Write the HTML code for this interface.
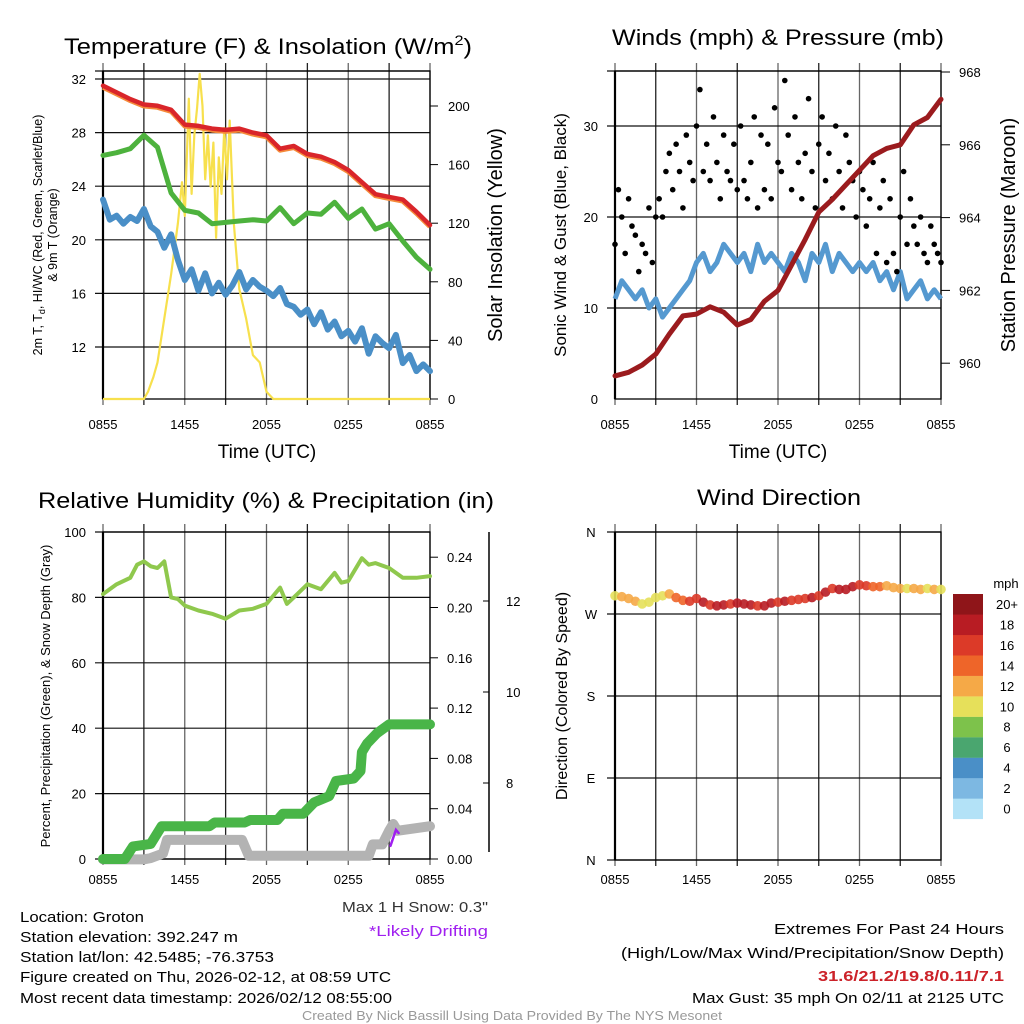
<!DOCTYPE html>
<html><head><meta charset="utf-8"><style>
html,body{margin:0;padding:0;background:#fff;}
svg{display:block;font-family:"Liberation Sans",sans-serif;}
</style></head><body>
<svg id="fig" width="1024" height="1024" viewBox="0 0 1024 1024" xmlns="http://www.w3.org/2000/svg">
<rect width="1024" height="1024" fill="#fff"/>
<g font-size="22" fill="#000">
<text x="64" y="54" textLength="408" lengthAdjust="spacingAndGlyphs">Temperature (F) &amp; Insolation (W/m<tspan font-size="14" dy="-9">2</tspan><tspan dy="9">)</tspan></text>
<text x="612" y="45" textLength="332" lengthAdjust="spacingAndGlyphs">Winds (mph) &amp; Pressure (mb)</text>
<text x="38" y="508" textLength="456" lengthAdjust="spacingAndGlyphs">Relative Humidity (%) &amp; Precipitation (in)</text>
<text x="697" y="505" textLength="164" lengthAdjust="spacingAndGlyphs">Wind Direction</text>
</g>
<g font-size="19">
<text x="267" y="458" text-anchor="middle">Time (UTC)</text>
<text x="778" y="458" text-anchor="middle">Time (UTC)</text>
<text transform="translate(502,235) rotate(-90)" text-anchor="middle" font-size="20">Solar Insolation (Yellow)</text>
<text transform="translate(1015,235) rotate(-90)" text-anchor="middle" font-size="20">Station Pressure (Maroon)</text>
<text transform="translate(566,235) rotate(-90)" text-anchor="middle" font-size="17">Sonic Wind &amp; Gust (Blue, Black)</text>
<text transform="translate(567,696) rotate(-90)" text-anchor="middle" font-size="16">Direction (Colored By Speed)</text>
<text transform="translate(50,696) rotate(-90)" text-anchor="middle" font-size="13">Percent, Precipitation (Green), &amp; Snow Depth (Gray)</text>
<text transform="translate(42,235) rotate(-90)" text-anchor="middle" font-size="12.5">2m T, T<tspan font-size="9" dy="3">d</tspan><tspan dy="-3">, HI/WC (Red, Green, Scarlet/Blue)</tspan></text>
<text transform="translate(57,235) rotate(-90)" text-anchor="middle" font-size="12.5">&amp; 9m T (Orange)</text>
</g>
<g font-size="15">
<text x="20" y="922" textLength="124" lengthAdjust="spacingAndGlyphs">Location: Groton</text>
<text x="20" y="942" textLength="218" lengthAdjust="spacingAndGlyphs">Station elevation: 392.247 m</text>
<text x="20" y="962" textLength="254" lengthAdjust="spacingAndGlyphs">Station lat/lon: 42.5485; -76.3753</text>
<text x="20" y="982" textLength="371" lengthAdjust="spacingAndGlyphs">Figure created on Thu, 2026-02-12, at 08:59 UTC</text>
<text x="20" y="1003" textLength="372" lengthAdjust="spacingAndGlyphs">Most recent data timestamp: 2026/02/12 08:55:00</text>
<text x="342" y="912" textLength="146" lengthAdjust="spacingAndGlyphs" fill="#333">Max 1 H Snow: 0.3"</text>
<text x="369" y="936" textLength="119" lengthAdjust="spacingAndGlyphs" fill="#a020f0">*Likely Drifting</text>
<text x="774" y="934" textLength="230" lengthAdjust="spacingAndGlyphs">Extremes For Past 24 Hours</text>
<text x="621" y="958" textLength="383" lengthAdjust="spacingAndGlyphs">(High/Low/Max Wind/Precipitation/Snow Depth)</text>
<text x="818" y="981" textLength="186" lengthAdjust="spacingAndGlyphs" fill="#cc2229" font-weight="bold">31.6/21.2/19.8/0.11/7.1</text>
<text x="692" y="1003" textLength="312" lengthAdjust="spacingAndGlyphs">Max Gust: 35 mph On 02/11 at 2125 UTC</text>
<text x="302" y="1020" textLength="420" lengthAdjust="spacingAndGlyphs" font-size="13" fill="#999">Created By Nick Bassill Using Data Provided By The NYS Mesonet</text>
</g>
</svg>
<script>
// ---- data ----
var hours = [0,1,2,3,4,5,6,7,8,9,10,11,12,13,14,15,16,17,18,19,20,21,22,23,24];
var tempRed = [31.5,31.0,30.5,30.1,30.0,29.7,28.6,28.5,28.3,28.2,28.3,28.0,27.8,26.8,27.0,26.4,26.2,25.8,25.2,24.3,23.4,23.2,23.0,22.1,21.1];
var tempGreen = [26.3,26.5,26.8,27.8,26.9,23.5,22.2,22.0,21.2,21.3,21.4,21.5,21.4,22.4,21.2,22.0,21.9,22.8,21.6,22.3,20.8,21.2,19.9,18.7,17.8];
var halfHours = [0,0.5,1,1.5,2,2.5,3,3.5,4,4.5,5,5.5,6,6.5,7,7.5,8,8.5,9,9.5,10,10.5,11,11.5,12,12.5,13,13.5,14,14.5,15,15.5,16,16.5,17,17.5,18,18.5,19,19.5,20,20.5,21,21.5,22,22.5,23,23.5,24];
var dewBlue = [23,21.5,21.8,21.2,21.7,21.4,22.3,21.0,20.6,19.4,20.4,18.5,17.0,17.8,16.2,17.5,16.0,16.8,15.9,16.6,17.6,16.3,17.0,16.5,16.2,15.8,16.4,15.2,15.0,14.4,14.8,13.7,14.6,13.3,13.9,12.8,13.2,12.4,13.4,11.5,12.8,12.3,11.9,12.9,10.8,11.4,10.2,10.7,10.2];
var solarHours = [0,3,3.3,3.7,4,4.5,5,5.5,5.8,6,6.3,6.5,6.7,6.9,7.1,7.3,7.5,7.7,7.9,8.1,8.3,8.5,8.7,8.9,9.1,9.3,9.6,10,10.5,11,11.5,12,12.5,24];
var solarVals = [0,0,5,15,25,55,85,120,148,125,205,140,180,198,222,200,150,180,145,175,110,165,140,185,150,190,120,75,55,30,25,5,0,0];
var windVals = [11,13,12,11,12,10,11,9,10,11,12,13,15,16,14,15,17,16,15,16,14,17,15,16,15,14,16,15,13,16,15,17,14,16,15,14,15,14,15,13,14,12,14,11,12,13,11,12,11];
var gustVals = [17,23,20,16,22,19,18,14,17,16,21,15,20,22,20,25,27,23,28,25,21,29,26,24,30,34,25,28,24,31,26,22,29,25,24,28,23,30,24,22,26,31,21,29,23,28,22,32,26,25,35,29,23,31,26,22,27,33,25,21,28,31,24,27,22,30,25,21,29,26,24,20,25,23,19,22,26,16,21,24,15,22,16,14,20,25,17,22,19,17,20,16,15,19,17,16,15];
var pressVals = [959.65,959.75,959.95,960.25,960.8,961.3,961.35,961.55,961.4,961.05,961.2,961.7,962.0,962.7,963.4,964.15,964.5,964.9,965.3,965.7,965.9,966.0,966.55,966.75,967.25];
var rhHours = [0,1,2,2.5,3,3.5,4,4.5,5,5.5,6,7,8,9,10,11,12,13,13.5,14,15,16,17,17.5,18,19,19.5,20,21,22,23,24];
var rhVals = [81,84,86,90,91,89.5,89,91,80,79.5,77.5,76,75,73.5,76,76.5,78,83,78,80,84,82.5,87.5,84.5,85,92,90,90.5,89,86,86,86.5];
var precipHours = [0,1.6,2.2,3.5,4.3,7.8,8.2,10.4,10.8,12.8,13.2,14.7,15.5,16.6,17.1,18.4,18.9,19.0,19.4,20.1,21,24];
var precipVals = [0,0,0.01,0.012,0.026,0.026,0.029,0.029,0.031,0.031,0.036,0.036,0.045,0.05,0.062,0.064,0.07,0.085,0.092,0.1,0.107,0.107];
var snowHours = [0,3,3.5,4.4,4.7,10.2,10.7,19.5,19.8,20.5,21.0,21.3,21.6,24];
var snowVals = [6.32,6.32,6.35,6.45,6.75,6.75,6.4,6.4,6.65,6.65,6.95,7.1,6.95,7.05];
var dirVals = [290,289,287,284,281,283,288,290,292,288,285,284,287,283,280,279,280,281,282,281,280,279,279,282,283,284,285,286,287,288,290,294,298,297,297,300,302,301,300,300,301,299,298,298,298,297,298,297,297];
var dirSpeed = [11,12,13,12,11,10,10,11,13,14,15,16,17,18,17,19,18,17,18,19,18,17,18,19,17,18,17,16,17,18,17,18,17,18,19,18,17,16,15,14,13,12,13,11,13,12,11,12,11];
var xTickLabels = ["0855","1455","2055","0255","0855"];
var tempTicks = [12,16,20,24,28,32];
var solarTicks = [0,40,80,120,160,200];
var windTicks = [0,10,20,30];
var pressTicks = [960,962,964,966,968];
var rhTicks = [0,20,40,60,80,100];
var precipTicks = [0.00,0.04,0.08,0.12,0.16,0.20,0.24];
var snowTicks = [8,10,12];
var dirTicks = ["N","E","S","W","N"];
var speedBins = ["0","2","4","6","8","10","12","14","16","18","20+"];
var speedColors = ["#b3e2f7","#7db8e2","#4a8fc7","#4aa66f","#7dc24b","#e6e05a","#f5a947","#ee6529","#dc3a28","#b81c23","#8f1519"];

// ---- scales ----
var NS = "http://www.w3.org/2000/svg";
var svg = document.getElementById("fig");
function xL(h){ return 103 + h*327/24; }
function xR(h){ return 615 + h*326/24; }
function yTemp(v){ return 79 + (32-v)*13.4; }
function ySol(v){ return 399 - v*293/200; }
function yWind(v){ return 399 - v*9.1; }
function yPress(p){ return 72 + (968-p)*36.4; }
function yRH(v){ return 859 - v*3.27; }
function yPrec(v){ return 859 - v*1257.5; }
function ySnow(v){ return 783 - (v-8)*45.5; }
function yDir(d){ return 860 - d*328/360; }

function mk(tag, attrs, parent){
  var el = document.createElementNS(NS, tag);
  for (var k in attrs) el.setAttribute(k, attrs[k]);
  (parent||svg).appendChild(el);
  return el;
}
function pathFrom(xs, ys, xf, yf){
  var d = "";
  for (var i=0;i<xs.length;i++) d += (i?"L":"M") + xf(xs[i]).toFixed(1) + "," + yf(ys[i]).toFixed(1);
  return d;
}
function txt(x,y,s,anchor,size,parent){
  var t = mk("text",{x:x,y:y,"text-anchor":anchor||"middle","font-size":size||13},parent);
  t.textContent = s;
  return t;
}

// ---- panel frames and grids ----
function panel(name, x0, x1, y0, y1, hLines, xTickY){
  var g = mk("g",{});
  
  
  for (var i=0;i<=8;i++){
    var x = x0 + i*(x1-x0)/8;
    var l = mk("line",{x1:x,x2:x,y1:y0-8,y2:y1+6,stroke:(i%2?"#222":"#666"),"stroke-width":1.3},g);
    
    
  }
  hLines.forEach(function(y){
    var l = mk("line",{x1:x0-8,x2:x1,y1:y,y2:y,stroke:"#111","stroke-width":1.2},g);
    
    
  });
  var r = mk("rect",{x:x0,y:y0,width:x1-x0,height:y1-y0,fill:"none",stroke:"#000","stroke-width":1.3},g);
  
  
  var ax = mk("line",{x1:x0,x2:x0,y1:y0,y2:y1,stroke:"#000","stroke-width":2.2},g);
  
  
  for (var j=0;j<xTickLabels.length;j++){
    var t = txt(x0 + j*(x1-x0)/4, xTickY, xTickLabels[j], "middle", 13, g);
    
    
  }
  return g;
}
var gTL = panel("temperature-panel",103,430,71,399,tempTicks.map(yTemp).concat([71]),429);
var gTR = panel("winds-panel",615,941,71,399,windTicks.slice(1).map(yWind).concat([71]),429);
var gBL = panel("humidity-panel",103,430,532,859,rhTicks.map(yRH),884);
var gBR = panel("direction-panel",615,941,532,860,[532,614,696,778,860],884);

// ---- y tick labels ----
tempTicks.forEach(function(v){ var t=txt(86,yTemp(v)+5,String(v),"end",13,gTL);   });
solarTicks.forEach(function(v){
  var y=ySol(v);
  var tk=mk("line",{x1:430,x2:438,y1:y,y2:y,stroke:"#000"},gTL);
  
  
  var t=txt(448,y+5,String(v),"start",13,gTL);  
});
windTicks.forEach(function(v){ var t=txt(598,yWind(v)+5,String(v),"end",13,gTR);   });
pressTicks.forEach(function(v){
  var y=yPress(v);
  var tk=mk("line",{x1:941,x2:950,y1:y,y2:y,stroke:"#000"},gTR);
  
  
  var t=txt(959,y+5,String(v),"start",13,gTR);  
});
rhTicks.forEach(function(v){ var t=txt(86,yRH(v)+5,String(v),"end",13,gBL);   });
precipTicks.forEach(function(v){
  var y=yPrec(v);
  var tk=mk("line",{x1:430,x2:438,y1:y,y2:y,stroke:"#000"},gBL);
  
  
  var t=txt(447,y+5,v.toFixed(2),"start",13,gBL);  
});
var snowAxis = mk("line",{x1:489,x2:489,y1:532,y2:852,stroke:"#000","stroke-width":1.5},gBL);


snowTicks.forEach(function(v){
  var y=ySnow(v);
  var tk=mk("line",{x1:483,x2:489,y1:y,y2:y,stroke:"#000"},gBL);
  
  
  var t=txt(506,y+5,String(v),"start",13,gBL);  
});
dirTicks.forEach(function(s,i){ var t=txt(591,860-i*82+5,s,"middle",13,gBR);   });

// ---- TL series ----
var pSol = mk("path",{d:pathFrom(solarHours,solarVals,xL,ySol),fill:"none",stroke:"#f7e04d","stroke-width":2.2,"stroke-linejoin":"round"},gTL);


var pBlue = mk("path",{d:pathFrom(halfHours,dewBlue,xL,yTemp),fill:"none",stroke:"#4a8fc7","stroke-width":6,"stroke-linejoin":"round","stroke-linecap":"round"},gTL);


var pGreen = mk("path",{d:pathFrom(hours,tempGreen,xL,yTemp),fill:"none",stroke:"#4db23d","stroke-width":5,"stroke-linejoin":"round","stroke-linecap":"round"},gTL);


var pOrange = mk("path",{d:pathFrom(hours,tempRed,xL,yTemp),fill:"none",stroke:"#f58a3a","stroke-width":5,"stroke-linejoin":"round",transform:"translate(0,1.5)"},gTL);


var pRed = mk("path",{d:pathFrom(hours,tempRed,xL,yTemp),fill:"none",stroke:"#d9252a","stroke-width":4.5,"stroke-linejoin":"round","stroke-linecap":"round"},gTL);



// ---- TR series ----
var pWind = mk("path",{d:pathFrom(halfHours,windVals,xR,yWind),fill:"none",stroke:"#5599d0","stroke-width":5,"stroke-linejoin":"round"},gTR);


gustVals.forEach(function(v,i){
  var c = mk("circle",{cx:xR(i*0.25),cy:yWind(v),r:2.8,fill:"#000"},gTR);
  
  
});
var pPress = mk("path",{d:pathFrom(hours,pressVals,xR,yPress),fill:"none",stroke:"#9b1b1e","stroke-width":5,"stroke-linejoin":"round","stroke-linecap":"round"},gTR);



// ---- BL series ----
var pRH = mk("path",{d:pathFrom(rhHours,rhVals,xL,yRH),fill:"none",stroke:"#8fc84d","stroke-width":4,"stroke-linejoin":"round","stroke-linecap":"round"},gBL);


var pSnow = mk("path",{d:pathFrom(snowHours,snowVals,xL,ySnow),fill:"none",stroke:"#b3b3b3","stroke-width":10,"stroke-linejoin":"round","stroke-linecap":"round"},gBL);


var pPrec = mk("path",{d:pathFrom(precipHours,precipVals,xL,yPrec),fill:"none",stroke:"#49b548","stroke-width":10,"stroke-linejoin":"round","stroke-linecap":"round"},gBL);


var pDrift = mk("path",{d:"M"+xL(21.1)+","+ySnow(6.62)+"L"+xL(21.5)+","+ySnow(6.97)+"L"+xL(21.7)+","+ySnow(6.9),fill:"none",stroke:"#a020f0","stroke-width":2.5,"stroke-linecap":"round"},gBL);



// ---- BR series ----
function speedColor(s){ var i=Math.min(10,Math.floor(s/2)); return speedColors[i]; }
dirVals.forEach(function(d,i){
  var c = mk("circle",{cx:xR(halfHours[i]),cy:yDir(d),r:4.8,fill:speedColor(dirSpeed[i]),"fill-opacity":0.9},gBR);
  
  
});
var leg = mk("g",{});


var mph = txt(1006,588,"mph","middle",13,leg);


for (var k=0;k<11;k++){
  var boxTop = 594 + (10-k)*20.45;
  var b = mk("rect",{x:953,y:boxTop,width:30,height:20.6,fill:speedColors[k]},leg);
  
  
  var lt = txt(1007,boxTop+15,speedBins[k],"middle",13,leg);
  
  
}
</script>
</body></html>
